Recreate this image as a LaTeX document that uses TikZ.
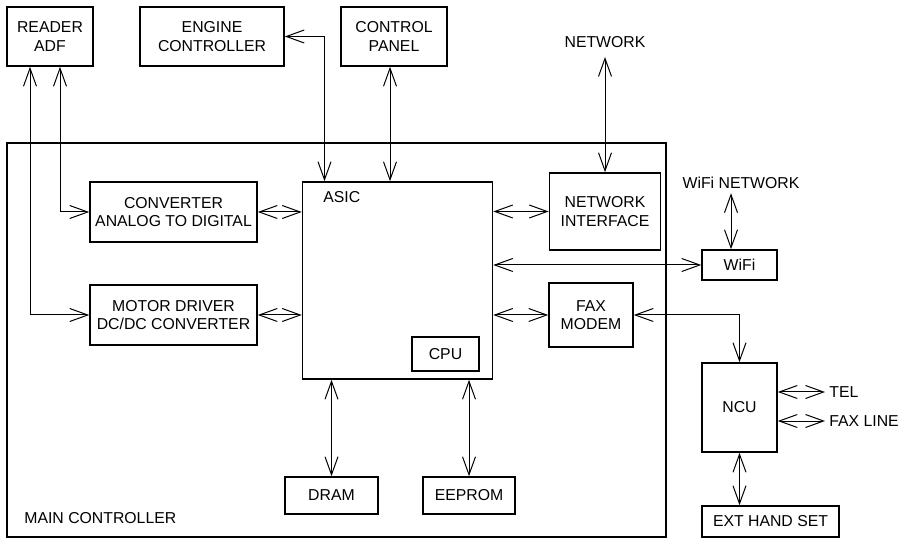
\documentclass[tikz,border=0pt]{standalone}
\usepackage{fontspec}
\setmainfont{Liberation Sans}
\usetikzlibrary{positioning,arrows.meta,calc}

\begin{document}
\begin{tikzpicture}[
    x=0.5pt, y=-0.5pt,
    font=\fontsize{7.9}{9.2}\selectfont,
    >={Straight Barb[length=9pt,width=6.5pt]},
    box/.style={draw, line width=0.8pt, align=center, inner sep=0pt},
    lbl/.style={inner sep=0pt},
    arr/.style={<->, line width=0.5pt}
  ]
    \useasboundingbox (0,0) rectangle (899,539);
    \node[box, minimum width=329.5pt, minimum height=197pt] (main) at (336.5,340) {};
    \node[lbl, anchor=west] (mainlbl) at (24,518) {MAIN CONTROLLER};
    \node[box, minimum width=43pt, minimum height=29.5pt] (reader) at (50,36.5) {READER\\ADF};
    \node[box, minimum width=72pt, minimum height=29.5pt] (engine) at (212,36.5) {ENGINE\\CONTROLLER};
    \node[box, minimum width=53pt, minimum height=29.5pt] (panel) at (394,36.5) {CONTROL\\PANEL};
    \node[inner sep=4.5pt] (net) at (605,42) {NETWORK};
    \node[box, minimum width=83.5pt, minimum height=30pt] (conv) at (173.5,212) {CONVERTER\\ANALOG TO DIGITAL};
    \node[box, minimum width=83.5pt, minimum height=30pt] (motor) at (173.5,315) {MOTOR DRIVER\\DC/DC CONVERTER};
    \node[box, minimum width=95pt, minimum height=98.5pt] (asic) at (397.5,280.5) {};
    \node[lbl, anchor=west] (asiclbl) at (323,197) {ASIC};
    \node[box, minimum width=33.5pt, minimum height=17pt] (cpu) at (445.5,354) {CPU};
    \node[box, minimum width=46.5pt, minimum height=18.5pt] (dram) at (331.5,495.5) {DRAM};
    \node[box, minimum width=46pt, minimum height=18.5pt] (eeprom) at (469,495.5) {EEPROM};
    \node[box, minimum width=55.5pt, minimum height=38.5pt] (netif) at (605,211.5) {NETWORK\\INTERFACE};
    \node[box, minimum width=42pt, minimum height=32pt] (fax) at (591,315) {FAX\\MODEM};
    \node[inner sep=2pt] (wifinet) at (741,183) {WiFi NETWORK};
    \node[box, minimum width=37.5pt, minimum height=15pt] (wifi) at (739.5,265) {WiFi};
    \node[box, minimum width=37.5pt, minimum height=44.5pt] (ncu) at (739.5,407.5) {NCU};
    \node[inner sep=2pt, anchor=west] (tel) at (825,392) {TEL};
    \node[inner sep=2pt, anchor=west] (faxline) at (825,421) {FAX LINE};
    \node[box, minimum width=68.5pt, minimum height=15.5pt] (ext) at (770.5,521.5) {EXT HAND SET};
    \draw[arr] ([xshift=-10pt]reader.south) |- (motor.west);
    \draw[arr] ([xshift=5pt]reader.south) |- (conv.west);
    \draw[arr] (engine.east) -| ([xshift=-36.5pt]asic.north);
    \draw[arr] ([xshift=-2pt]panel.south) -- ([xshift=-2pt]panel.south |- asic.north);
    \draw[arr] (net.south) -- (net.south |- netif.north);
    \draw[arr] (conv.east) -- (conv.east -| asic.west);
    \draw[arr] (motor.east) -- (motor.east -| asic.west);
    \draw[arr] (netif.west -| asic.east) -- (netif.west);
    \draw[arr] (wifi.west -| asic.east) -- (wifi.west);
    \draw[arr] (fax.west -| asic.east) -- (fax.west);
    \draw[arr] (fax.east) -| (ncu.north);
    \draw[arr] ([xshift=-5pt]wifinet.south) -- ([xshift=-5pt]wifinet.south |- wifi.north);
    \draw[arr] ([yshift=7.75pt]ncu.east) -- (tel.west);
    \draw[arr] ([yshift=-6.75pt]ncu.east) -- (faxline.west);
    \draw[arr] (ncu.south) -- (ncu.south |- ext.north);
    \draw[arr] (dram.north |- asic.south) -- (dram.north);
    \draw[arr] (eeprom.north |- asic.south) -- (eeprom.north);
  \end{tikzpicture}
\end{document}
